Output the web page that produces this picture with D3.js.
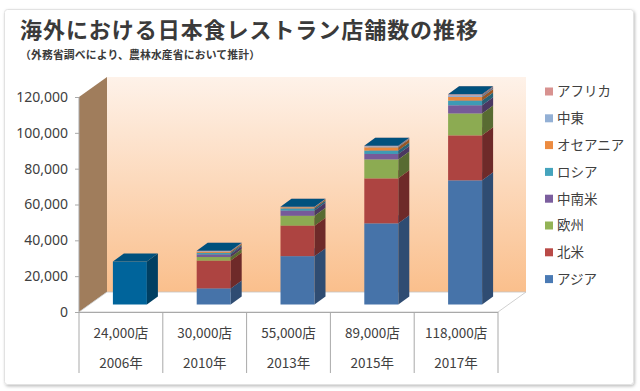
<!DOCTYPE html>
<html><head><meta charset="utf-8">
<script src="https://cdn.jsdelivr.net/npm/d3@7"></script>
<style>
html,body{margin:0;padding:0;background:#fff;}
svg{display:block;font-family:"Noto Sans CJK JP","Noto Sans",sans-serif;}
</style></head>
<body>
<svg id="c" width="640" height="391"></svg>
<script>
// ---- data ----
const years = ["2006年","2010年","2013年","2015年","2017年"];
const totalLabels = ["24,000店","30,000店","55,000店","89,000店","118,000店"];
const regions = ["アジア","北米","欧州","中南米","ロシア","オセアニア","中東","アフリカ"];
const asia =         [0,  9000, 27000, 45300, 69300];
const northAmerica = [0, 15500, 17000, 25100, 25100];
const europe =       [0,  2000,  5500, 10550, 12200];
const latinAmerica = [0,  1500,  2900,  3100,  4600];
const russia =       [0,   800,  1200,  1850,  2600];
const oceania =      [0,   600,   700,  1850,  2000];
const middleEast =   [0,   300,   150,   600,  1000];
const africa =       [0,   300,   150,   300,   500];
const total2006 =    [24000, 0, 0, 0, 0];
const yTicks = [0, 20000, 40000, 60000, 80000, 100000, 120000];

const seriesKeys = ["アジア","北米","欧州","中南米","ロシア","オセアニア","中東","アフリカ","合計"];
const seriesVals = [asia, northAmerica, europe, latinAmerica, russia, oceania, middleEast, africa, total2006];
const colors = {
  "アジア":   {front:"#4673a9", side:"#2f4c72", top:"#5a86bb", legend:"#4a7ab4"},
  "北米":     {front:"#ad4441", side:"#6e2a29", top:"#c05a57", legend:"#b94a47"},
  "欧州":     {front:"#8cab52", side:"#586b32", top:"#a0bf65", legend:"#93b356"},
  "中南米":   {front:"#765a99", side:"#4a3862", top:"#8a70ab", legend:"#7b5e9e"},
  "ロシア":   {front:"#3e9bb5", side:"#276276", top:"#57b0c7", legend:"#45a4bd"},
  "オセアニア":{front:"#e8873d", side:"#985624", top:"#f39c58", legend:"#ec8b40"},
  "中東":     {front:"#92acd2", side:"#5f7290", top:"#a8c0e0", legend:"#93b0d5"},
  "アフリカ": {front:"#d59390", side:"#8e605e", top:"#e2a7a5", legend:"#d89290"},
  "合計":     {front:"#00649b", side:"#003f62", top:"#00517d", legend:"#00649b"}
};

const table = years.map((yr, i) => {
  const row = {year: yr};
  seriesKeys.forEach((k, j) => row[k] = seriesVals[j][i]);
  return row;
});

const svg = d3.select("#c");
const defs = svg.append("defs");
const grad = defs.append("linearGradient").attr("id","wall").attr("x1",0).attr("y1",0).attr("x2",0).attr("y2",1);
grad.append("stop").attr("offset","0%").attr("stop-color","#fef2e9");
grad.append("stop").attr("offset","100%").attr("stop-color","#fabf8c");
const sh = defs.append("filter").attr("id","sh").attr("x","-5%").attr("y","-5%").attr("width","110%").attr("height","110%");
sh.append("feDropShadow").attr("dx",1).attr("dy",1.5).attr("stdDeviation",1.5).attr("flood-color","#000").attr("flood-opacity",0.25);

// card
svg.append("rect").attr("x",4.5).attr("y",9.5).attr("width",629).attr("height",375)
  .attr("rx",3).attr("fill","#fff").attr("stroke","#e2e2e2").attr("filter","url(#sh)");

// titles
svg.append("text").attr("x",20).attr("y",38).attr("font-size",22).attr("font-weight","bold")
  .attr("textLength",458).attr("lengthAdjust","spacing")
  .attr("fill","#3a3a3a").text("海外における日本食レストラン店舗数の推移");
svg.append("text").attr("x",20).attr("y",59).attr("font-size",10.8).attr("font-weight","bold")
  .attr("textLength",240).attr("lengthAdjust","spacing")
  .attr("fill","#3a3a3a").text("（外務省調べにより、農林水産省において推計）");

// scales
const x = d3.scaleBand().domain(years).range([79, 498]);
const y = d3.scaleLinear().domain([0, 120000]).range([312, 97]);
const DX = 28, DY = -20;           // floor depth
const bt = 0.375;                  // bar front depth fraction
const bdx = 11, bdy = -8;          // bar depth
const bw = 34;

const x0 = x.range()[0], x1 = x.range()[1];
const yTop = y(120000), yBot = y(0);

// left wall
svg.append("polygon").attr("points", [[x0,yTop],[x0+DX,yTop+DY],[x0+DX,yBot+DY],[x0,yBot]].join(" "))
  .attr("fill","#a07d5c");
// back wall
svg.append("rect").attr("x",x0+DX).attr("y",yTop+DY).attr("width",x1-x0).attr("height",yBot-yTop)
  .attr("fill","url(#wall)");
// floor
svg.append("polygon").attr("points", [[x0,yBot],[x1,yBot],[x1+DX,yBot+DY],[x0+DX,yBot+DY]].join(" "))
  .attr("fill","#ffffff").attr("stroke","#c4c4c4").attr("stroke-width",0.8);

// y axis line & ticks
svg.append("line").attr("x1",x0).attr("x2",x0).attr("y1",yTop).attr("y2",373)
  .attr("stroke","#a9a9a9").attr("stroke-width",1);
const axis = svg.append("g").attr("transform",`translate(${x0},0)`)
  .call(d3.axisLeft(y).tickValues(yTicks).tickSize(4).tickPadding(7).tickFormat(d3.format(",")));
axis.select(".domain").remove();
axis.selectAll("line").attr("stroke","#a9a9a9");
axis.selectAll("text").attr("font-size",14).attr("fill","#404040")
  .attr("font-family","'Noto Sans','Noto Sans CJK JP',sans-serif");

// table
svg.append("line").attr("x1",x0).attr("x2",x1).attr("y1",yBot+0.5).attr("y2",yBot+0.5).attr("stroke","#a9a9a9");
years.forEach((yr) => {
  svg.append("line").attr("x1",x(yr)+x.bandwidth()).attr("x2",x(yr)+x.bandwidth())
    .attr("y1",yBot).attr("y2",373).attr("stroke","#a9a9a9");
});
svg.append("g").selectAll("text.tot").data(years).join("text")
  .attr("x", d => x(d)+x.bandwidth()/2).attr("y",338).attr("text-anchor","middle")
  .attr("font-size",13.5).attr("fill","#404040").text((d,i) => totalLabels[i]);
svg.append("g").selectAll("text.yr").data(years).join("text")
  .attr("x", d => x(d)+x.bandwidth()/2).attr("y",368).attr("text-anchor","middle")
  .attr("font-size",13.5).attr("fill","#404040").text(d => d);

// bars
const stack = d3.stack().keys(seriesKeys)(table);
const barsG = svg.append("g");
years.forEach((yr, i) => {
  const bx = x(yr) + x.bandwidth()/2 - bw/2 + DX*bt - 1.5;
  const off = DY*bt;
  stack.forEach(layer => {
    const k = layer.key;
    const [v0, v1] = layer[i];
    const isTotal = k === "合計";
    if (v1 - v0 <= 0 && !(isTotal)) return;
    const yb = y(v0) + off, yt = y(v1) + off;
    const c = colors[k];
    if (v1 - v0 > 0) {
      barsG.append("rect").attr("x",bx).attr("y",yt).attr("width",bw).attr("height",yb-yt).attr("fill",c.front);
      barsG.append("polygon").attr("points",[[bx+bw,yt],[bx+bw+bdx,yt+bdy],[bx+bw+bdx,yb+bdy],[bx+bw,yb]].join(" "))
        .attr("fill",c.side);
    }
    barsG.append("polygon").attr("points",[[bx,yt],[bx+bdx,yt+bdy],[bx+bw+bdx,yt+bdy],[bx+bw,yt]].join(" "))
      .attr("fill",c.top);
  });
});

// legend
const legendOrder = regions.slice().reverse();
const lg = svg.append("g");
legendOrder.forEach((r, i) => {
  const cy = 91.5 + i*26.8;
  lg.append("rect").attr("x",545).attr("y",cy-4).attr("width",8).attr("height",8).attr("fill",colors[r].legend);
  lg.append("text").attr("x",557).attr("y",cy).attr("dy","0.36em").attr("font-size",13.5)
    .attr("fill","#404040").text(r);
});
</script>
</body></html>
